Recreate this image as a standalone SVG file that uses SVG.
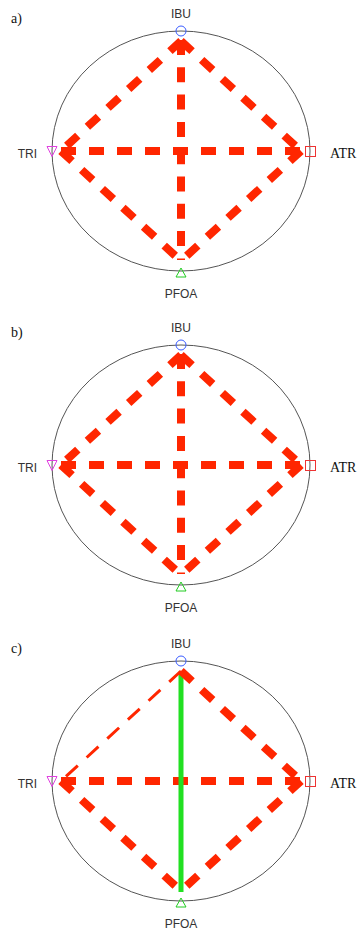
<svg xmlns="http://www.w3.org/2000/svg" width="357" height="931" viewBox="0 0 357 931">
  <style>
    .rim { fill: none; stroke: #555; stroke-width: 1; }
    .e { fill: none; stroke: #ff2600; stroke-width: 8; stroke-dasharray: 15 13; }
    .ev { stroke-dasharray: 15 12.3; }
    .thin { fill: none; stroke: #ff2600; stroke-width: 3; stroke-dasharray: 16 12; }
    .solid { fill: none; stroke: #22e022; stroke-width: 5; }
    .lbl { font-family: "Liberation Sans", Arial, sans-serif; font-size: 12px; fill: #333; }
    .tag { font-family: "Liberation Serif", "Times New Roman", serif; font-size: 14px; fill: #111; }
    .ibu { fill: none; stroke: #3a5cff; stroke-width: 1; }
    .tri { fill: none; stroke: #e040e0; stroke-width: 1; }
    .pfoa { fill: none; stroke: #22cc22; stroke-width: 1; }
    .atr { fill: none; stroke: #ee3333; stroke-width: 1; }
  </style>
  <defs>
    <!-- shared node glyphs and labels for one ring -->
    <g id="ring">
      <ellipse class="rim" cx="181" cy="151" rx="129" ry="120"/>
    </g>
    <g id="node-ibu-shape">
      <circle class="ibu" cx="181" cy="31" r="5"/>
      <text class="lbl" x="181" y="18" text-anchor="middle">IBU</text>
    </g>
    <g id="node-tri-shape">
      <polygon class="tri" points="47,146.5 57,146.5 52,156.5"/>
      <text class="lbl" x="37" y="157.5" text-anchor="end">TRI</text>
    </g>
    <g id="node-atr-shape">
      <rect class="atr" x="305.5" y="146.5" width="10" height="10"/>
      <text class="tag" x="330" y="158">ATR</text>
    </g>
    <g id="node-pfoa-shape">
      <polygon class="pfoa" points="181,268 176,277 186,277"/>
      <text class="lbl" x="181" y="298" text-anchor="middle">PFOA</text>
    </g>
  </defs>

  <!-- panel a -->
  <g id="panel-a">
    <text class="tag" x="11" y="22.5">a)</text>
    <use href="#ring"/>
    <g id="a-connectors">
      <path class="e" d="M61,151 H301"/>
      <path class="e ev" d="M181,40 V260"/>
      <path class="e" d="M181,41 L61,151"/>
      <path class="e" d="M181,41 L301,151"/>
      <path class="e" d="M61,151 L181,261"/>
      <path class="e" d="M301,151 L181,261"/>
    </g>
    <g id="a-IBU"><use href="#node-ibu-shape"/></g>
    <g id="a-TRI"><use href="#node-tri-shape"/></g>
    <g id="a-ATR"><use href="#node-atr-shape"/></g>
    <g id="a-PFOA"><use href="#node-pfoa-shape"/></g>
  </g>

  <!-- panel b -->
  <g id="panel-b" transform="translate(0,314)">
    <text class="tag" x="11" y="22.5">b)</text>
    <use href="#ring"/>
    <g id="b-connectors">
      <path class="e" d="M61,151 H301"/>
      <path class="e ev" d="M181,40 V260"/>
      <path class="e" d="M181,41 L61,151"/>
      <path class="e" d="M181,41 L301,151"/>
      <path class="e" d="M61,151 L181,261"/>
      <path class="e" d="M301,151 L181,261"/>
    </g>
    <g id="b-IBU"><use href="#node-ibu-shape"/></g>
    <g id="b-TRI"><use href="#node-tri-shape"/></g>
    <g id="b-ATR"><use href="#node-atr-shape"/></g>
    <g id="b-PFOA"><use href="#node-pfoa-shape"/></g>
  </g>

  <!-- panel c -->
  <g id="panel-c" transform="translate(0,630)">
    <text class="tag" x="11" y="22.5">c)</text>
    <use href="#ring"/>
    <g id="c-connectors">
      <path class="e" d="M61,151 H301"/>
      <path class="solid" d="M181,41.5 V262"/>
      <path class="thin" d="M181,41 L61,151"/>
      <path class="e" d="M181,41 L301,151"/>
      <path class="e" d="M61,151 L181,261"/>
      <path class="e" d="M301,151 L181,261"/>
    </g>
    <g id="c-IBU"><use href="#node-ibu-shape"/></g>
    <g id="c-TRI"><use href="#node-tri-shape"/></g>
    <g id="c-ATR"><use href="#node-atr-shape"/></g>
    <g id="c-PFOA"><use href="#node-pfoa-shape"/></g>
  </g>
</svg>
